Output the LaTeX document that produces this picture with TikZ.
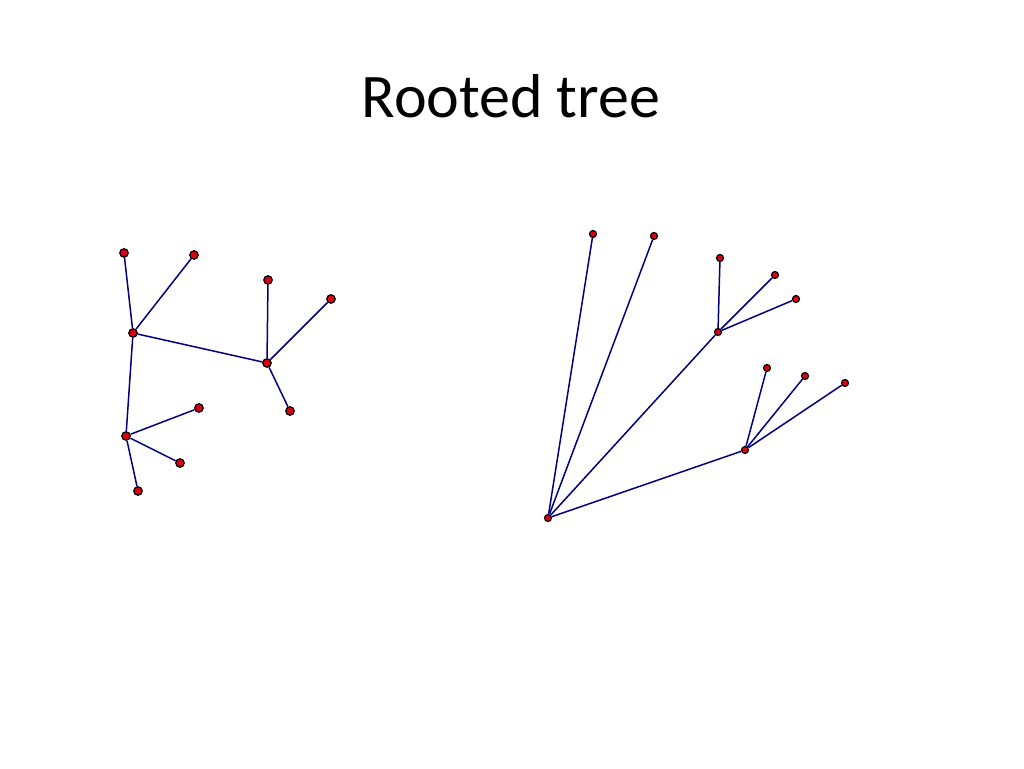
\documentclass[tikz,border=0pt]{standalone}
\usepackage{fontspec}
\setmainfont{Carlito}
\usetikzlibrary{positioning}
\definecolor{edgeblue}{RGB}{0,0,128}
\definecolor{vertred}{RGB}{220,0,20}

\begin{document}
\begin{tikzpicture}[
  x=1pt,y=-1pt,
  vtx/.style={circle,draw=black,fill=vertred,line width=1.2pt,inner sep=0pt,minimum size=8.5pt},
  svtx/.style={vtx,minimum size=7pt},
  edg/.style={draw=edgeblue,line width=1.5pt}]
\useasboundingbox (0,0) rectangle (1024,768);
\node[anchor=base,font=\fontsize{62}{72}\selectfont] (title) at (511,117) {Rooted tree};
% left tree
\node[vtx] (la) at (124,253) {};
\node[vtx] (lb) at (194,255) {};
\node[vtx] (lc) at (133,333) {};
\node[vtx] (ld) at (268,280) {};
\node[vtx] (le) at (331,299) {};
\node[vtx] (lf) at (267,363) {};
\node[vtx] (lg) at (290,411) {};
\node[vtx] (lh) at (199,408) {};
\node[vtx] (li) at (126,436) {};
\node[vtx] (lj) at (180,463) {};
\node[vtx] (lk) at (138,491) {};
\foreach \u/\v in {la/lc,lb/lc,lc/lf,ld/lf,le/lf,lf/lg,lc/li,li/lh,li/lj,li/lk}
  \draw[edg] (\u) -- (\v);
% right tree
\node[svtx] (rr) at (548,518) {};
\node[svtx] (ra) at (593,234) {};
\node[svtx] (rb) at (654,236) {};
\node[svtx] (rm) at (718,332) {};
\node[svtx] (rc) at (720,258) {};
\node[svtx] (rd) at (775,275) {};
\node[svtx] (re) at (796,299) {};
\node[svtx] (rn) at (745,450) {};
\node[svtx] (rf) at (767,368) {};
\node[svtx] (rg) at (805,376) {};
\node[svtx] (rh) at (845,383) {};
\foreach \u/\v in {rr/ra,rr/rb,rr/rm,rr/rn,rm/rc,rm/rd,rm/re,rn/rf,rn/rg,rn/rh}
  \draw[edg] (\u) -- (\v);
\end{tikzpicture}
\end{document}
